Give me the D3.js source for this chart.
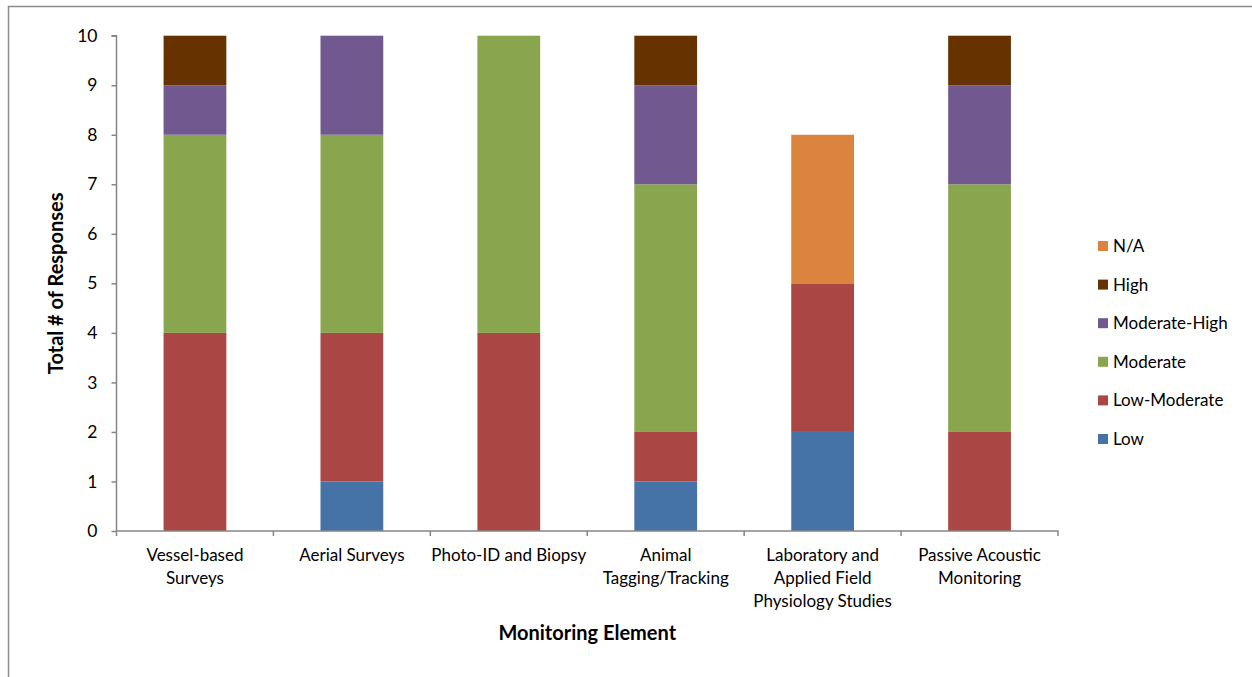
<!DOCTYPE html>
<html>
<head>
<meta charset="utf-8">
<script src="https://cdn.jsdelivr.net/npm/d3@7"></script>
<style>
  html, body { margin: 0; padding: 0; background: #fff; }
  svg { display: block; }
  text { font-family: Lato, "Open Sans", sans-serif; fill: #000; }
</style>
</head>
<body>
<svg id="chart" width="1252" height="677"></svg>
<script>
const categories = [
  ["Vessel-based", "Surveys"],
  ["Aerial Surveys"],
  ["Photo-ID and Biopsy"],
  ["Animal", "Tagging/Tracking"],
  ["Laboratory and", "Applied Field", "Physiology Studies"],
  ["Passive Acoustic", "Monitoring"]
];
const seriesNames = ["Low", "Low-Moderate", "Moderate", "Moderate-High", "High", "N/A"];
const seriesColors = ["#4572A7", "#AA4643", "#89A54E", "#71588F", "#663300", "#DB843D"];
const low          = [0, 1, 0, 1, 2, 0];
const lowModerate  = [4, 3, 4, 1, 3, 2];
const moderate     = [4, 4, 6, 5, 0, 5];
const moderateHigh = [1, 2, 0, 2, 0, 2];
const high         = [1, 0, 0, 1, 0, 1];
const na           = [0, 0, 0, 0, 3, 0];
const yTicks = [0, 1, 2, 3, 4, 5, 6, 7, 8, 9, 10];
const xTitle = "Monitoring Element";
const yTitle = "Total # of Responses";

(function () {
const seriesValues = [low, lowModerate, moderate, moderateHigh, high, na];
const keys = categories.map((c, i) => i);
const rows = keys.map(i => {
  const r = { idx: i };
  seriesNames.forEach((s, j) => r[s] = seriesValues[j][i]);
  return r;
});

const svg = d3.select("#chart");
const axisColor = "#868686";

// outer chart border
svg.append("rect").attr("x", 8.5).attr("y", 6.5).attr("width", 1300).attr("height", 700)
  .attr("fill", "none").attr("stroke", "#8c8c8c").attr("stroke-width", 1.5);

const pLeft = 116.5, pRight = 1058, pTop = 35.7, pBottom = 531;
const x = d3.scaleBand().domain(keys).range([pLeft, pRight]).paddingInner(0.6).paddingOuter(0.3);
const y = d3.scaleLinear().domain([0, 10]).range([pBottom, pTop]);

const stack = d3.stack().keys(seriesNames)(rows);
const color = d3.scaleOrdinal().domain(seriesNames).range(seriesColors);

svg.append("g").selectAll("g").data(stack).join("g")
  .attr("fill", d => color(d.key))
  .selectAll("rect").data(d => d.filter(p => p[1] - p[0] > 0)).join("rect")
  .attr("x", d => x(d.data.idx))
  .attr("width", x.bandwidth())
  .attr("y", d => y(d[1]))
  .attr("height", d => y(d[0]) - y(d[1]));

// y axis
const yAxis = svg.append("g").attr("transform", `translate(${pLeft},0)`)
  .call(d3.axisLeft(y).tickValues(yTicks).tickSize(5).tickPadding(14).tickFormat(d3.format("d")));
yAxis.select(".domain").attr("stroke", axisColor).attr("stroke-width", 1.5).attr("d", `M-5,${pTop}H0V${pBottom}`);
yAxis.selectAll(".tick line").attr("stroke", axisColor).attr("stroke-width", 1.5);
yAxis.selectAll(".tick text").attr("font-size", 17.5).attr("font-family", "Lato, sans-serif").attr("fill", "#000");

// x axis
const xb = d3.scaleLinear().domain([0, categories.length]).range([pLeft, pRight]);
const xAxisG = svg.append("g").attr("transform", `translate(0,${pBottom})`);
xAxisG.append("path").attr("d", `M${pLeft},0H${pRight}V5`).attr("stroke", axisColor).attr("stroke-width", 1.5).attr("fill", "none");
xAxisG.selectAll("line.tk").data(d3.range(0, categories.length)).join("line").attr("class", "tk")
  .attr("x1", d => xb(d)).attr("x2", d => xb(d)).attr("y1", 0).attr("y2", 5)
  .attr("stroke", axisColor).attr("stroke-width", 1.5);

const lbl = svg.append("g").selectAll("text").data(categories).join("text")
  .attr("x", (d, i) => x(i) + x.bandwidth() / 2)
  .attr("y", 561)
  .attr("text-anchor", "middle")
  .attr("font-size", 17);
lbl.selectAll("tspan").data(d => d).join("tspan")
  .attr("x", function() { return this.parentNode.getAttribute("x"); })
  .attr("dy", (d, i) => i === 0 ? 0 : 23)
  .text(d => d);

// titles
svg.append("text").attr("x", (pLeft + pRight) / 2).attr("y", 640).attr("text-anchor", "middle")
  .attr("font-size", 20).attr("font-weight", "bold").text(xTitle);
svg.append("text").attr("transform", `translate(63,${(pTop + pBottom) / 2}) rotate(-90)`)
  .attr("text-anchor", "middle").attr("font-size", 20).attr("font-weight", "bold").text(yTitle);

// legend (reversed order)
const legendItems = seriesNames.slice().reverse();
const lg = svg.append("g").selectAll("g").data(legendItems).join("g")
  .attr("transform", (d, i) => `translate(1098,${246 + i * 38.6})`);
lg.append("rect").attr("x", 0).attr("y", -5).attr("width", 10).attr("height", 10).attr("fill", d => color(d));
lg.append("text").attr("x", 15).attr("y", 6).attr("font-size", 17).text(d => d);
})();
</script>
</body>
</html>
